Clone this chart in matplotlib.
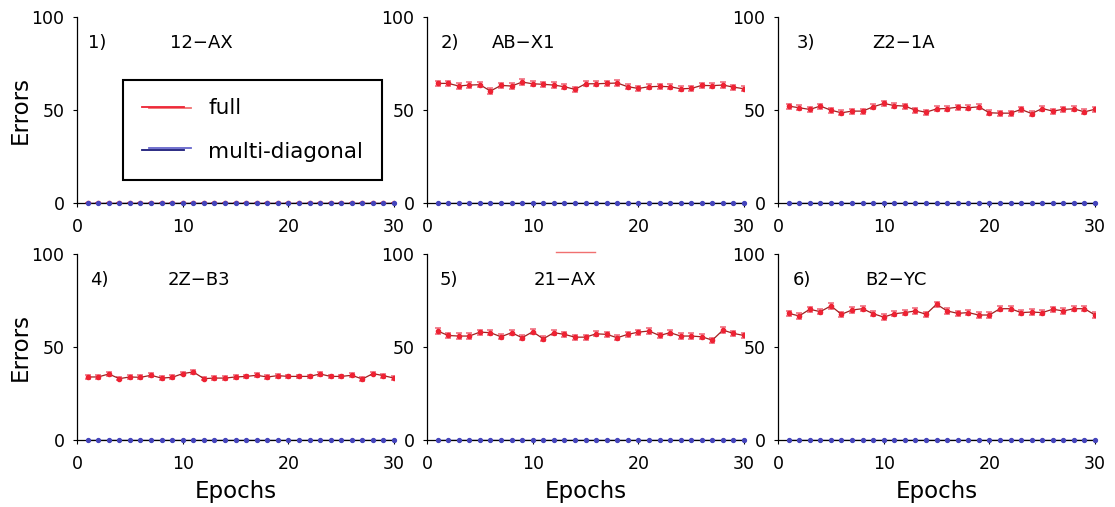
import numpy as np
import matplotlib
matplotlib.use("Agg")
import matplotlib.pyplot as plt
from matplotlib.lines import Line2D
from matplotlib.legend_handler import HandlerBase

plt.rcParams['font.family'] = ['DejaVu Sans']

epochs = list(range(1, 31))

panel_ids = ["1)", "2)", "3)", "4)", "5)", "6)"]
panel_names = ["12\u2212AX", "AB\u2212X1", "Z2\u22121A", "2Z\u2212B3", "21\u2212AX", "B2\u2212YC"]

full_12AX = [0.0] * 30
full_ABX1 = [64.3, 64.3, 62.9, 63.4, 63.6, 60.2, 63.2, 62.9, 65.0, 64.1,
             63.8, 63.4, 62.5, 61.1, 64.1, 64.1, 64.3, 64.5, 62.5, 61.6,
             62.5, 62.7, 62.5, 61.4, 61.6, 63.2, 63.1, 63.4, 62.3, 61.4]
full_Z21A = [52.1, 51.2, 50.3, 52.1, 49.9, 48.5, 49.4, 49.4, 51.7, 53.5,
             52.4, 52.1, 49.9, 48.8, 50.6, 50.8, 51.5, 51.2, 51.7, 48.5,
             48.3, 48.3, 50.3, 48.1, 50.8, 49.4, 50.4, 50.6, 49.0, 50.4]
full_2ZB3 = [33.9, 33.9, 35.5, 33.0, 33.9, 33.7, 34.8, 33.3, 33.7, 35.7,
             36.6, 33.0, 33.3, 33.3, 33.9, 34.2, 34.8, 33.9, 34.6, 34.2,
             34.2, 34.2, 35.5, 34.2, 34.2, 34.8, 32.8, 35.7, 34.6, 33.3]
full_21AX = [58.6, 56.2, 55.9, 55.9, 58.0, 57.7, 55.5, 57.7, 55.0, 58.2,
             54.4, 57.7, 56.8, 55.3, 55.3, 57.1, 56.8, 55.0, 56.8, 58.0,
             58.6, 56.2, 57.7, 55.9, 55.9, 55.5, 53.7, 59.1, 57.3, 56.2]
full_B2YC = [68.1, 66.7, 70.3, 69.0, 72.1, 67.6, 69.9, 70.6, 67.9, 66.1,
             67.9, 68.5, 69.4, 67.6, 73.0, 69.4, 68.1, 68.5, 67.2, 67.2,
             70.6, 70.6, 68.5, 68.8, 68.5, 70.3, 69.4, 70.6, 70.6, 67.2]
full_series = [full_12AX, full_ABX1, full_Z21A, full_2ZB3, full_21AX, full_B2YC]
full_err = [0.0, 1.4, 1.3, 1.0, 1.4, 1.4]

multidiag_series = [[0.0] * 30 for _ in range(6)]

x_ticks = [0, 10, 20, 30]
y_ticks = [0, 50, 100]

# text anchor positions (data coords) for the panel tags and names
id_x = [1.0, 1.3, 1.8, 1.2, 1.2, 1.4]
name_x = [8.8, 6.1, 8.9, 8.6, 10.1, 8.3]
text_y = 86

RED = '#ee2233'
RED_LINE = '#a02020'
RED_ERR = '#f07080'
BLUE = '#4444bb'
NAVY = '#1a1a7a'

fig = plt.figure(figsize=(11.15, 5.07), dpi=100)

lefts = [0.0691, 0.383, 0.6978]
bottoms = [0.5996, 0.1321]
w, h = 0.2843, 0.3669

axes = []
for r in range(2):
    for c in range(3):
        axes.append(fig.add_axes([lefts[c], bottoms[r], w, h]))


class TwinLineHandler(HandlerBase):
    def __init__(self, c1, c2, dy, **kw):
        super().__init__(**kw)
        self.c1, self.c2, self.dy = c1, c2, dy

    def create_artists(self, legend, orig_handle, xdescent, ydescent,
                       width, height, fontsize, trans):
        y = height / 2 - ydescent
        a = Line2D([-xdescent, -xdescent + 0.85 * width], [y, y],
                   color=self.c1, lw=1.3, transform=trans)
        b = Line2D([-xdescent + 0.15 * width, -xdescent + 1.0 * width],
                   [y + self.dy, y + self.dy],
                   color=self.c2, lw=1.3, transform=trans)
        return [b, a]


for i, ax in enumerate(axes):
    ax.errorbar(epochs, full_series[i], yerr=full_err[i], fmt='none',
                ecolor=RED_ERR, elinewidth=1.2, capsize=2.5, capthick=1.2,
                zorder=2)
    ax.plot(epochs, full_series[i], color=RED_LINE, lw=0.9, zorder=3)
    ax.plot(epochs, full_series[i], 'o', color=RED, ms=3, zorder=4)
    ax.plot(epochs, multidiag_series[i], color=NAVY, lw=1.0, zorder=5)
    ax.plot(epochs, multidiag_series[i], 'o', color=BLUE, ms=2.8, zorder=6,
            clip_on=False)

    ax.set_xlim(0, 30)
    ax.set_ylim(0, 100)
    ax.set_xticks(x_ticks)
    ax.set_yticks(y_ticks)
    for s in ['top', 'right']:
        ax.spines[s].set_visible(False)
    for s in ['left', 'bottom']:
        ax.spines[s].set_linewidth(0.9)
    ax.tick_params(direction='out', length=3, width=0.8, labelsize=12.5)
    ax.tick_params(axis='x', pad=8)
    ax.tick_params(axis='y', pad=6)

    ax.text(id_x[i], text_y, panel_ids[i], fontsize=13, va='center', ha='left')
    ax.text(name_x[i], text_y, panel_names[i], fontsize=13, va='center', ha='left')

    if i % 3 == 0:
        ax.set_ylabel('Errors', fontsize=16.5, labelpad=0)
    if i >= 3:
        ax.set_xlabel('Epochs', fontsize=16.5, labelpad=5)

h_full = Line2D([], [], color=RED)
h_md = Line2D([], [], color=NAVY)
leg = axes[0].legend(
    [h_full, h_md], ['full', 'multi-diagonal'],
    handler_map={h_full: TwinLineHandler(RED, '#f07070', -1.0),
                 h_md: TwinLineHandler(NAVY, '#6666cc', 1.5)},
    loc='upper left', bbox_to_anchor=(0.146, 0.661), borderaxespad=0,
    fancybox=False, edgecolor='black', framealpha=1,
    prop={'family': 'DejaVu Sans', 'size': 15.5},
    handlelength=2.3, labelspacing=1.1, borderpad=0.85, handletextpad=0.8)
leg.get_frame().set_linewidth(1.5)

# small stray legend stroke above panel 5
fig.add_artist(Line2D([556 / 1115, 595 / 1115], [1 - 252 / 507, 1 - 252 / 507],
                      color='#f07070', lw=1.0, transform=fig.transFigure))

fig.savefig('out.png', dpi=100)
